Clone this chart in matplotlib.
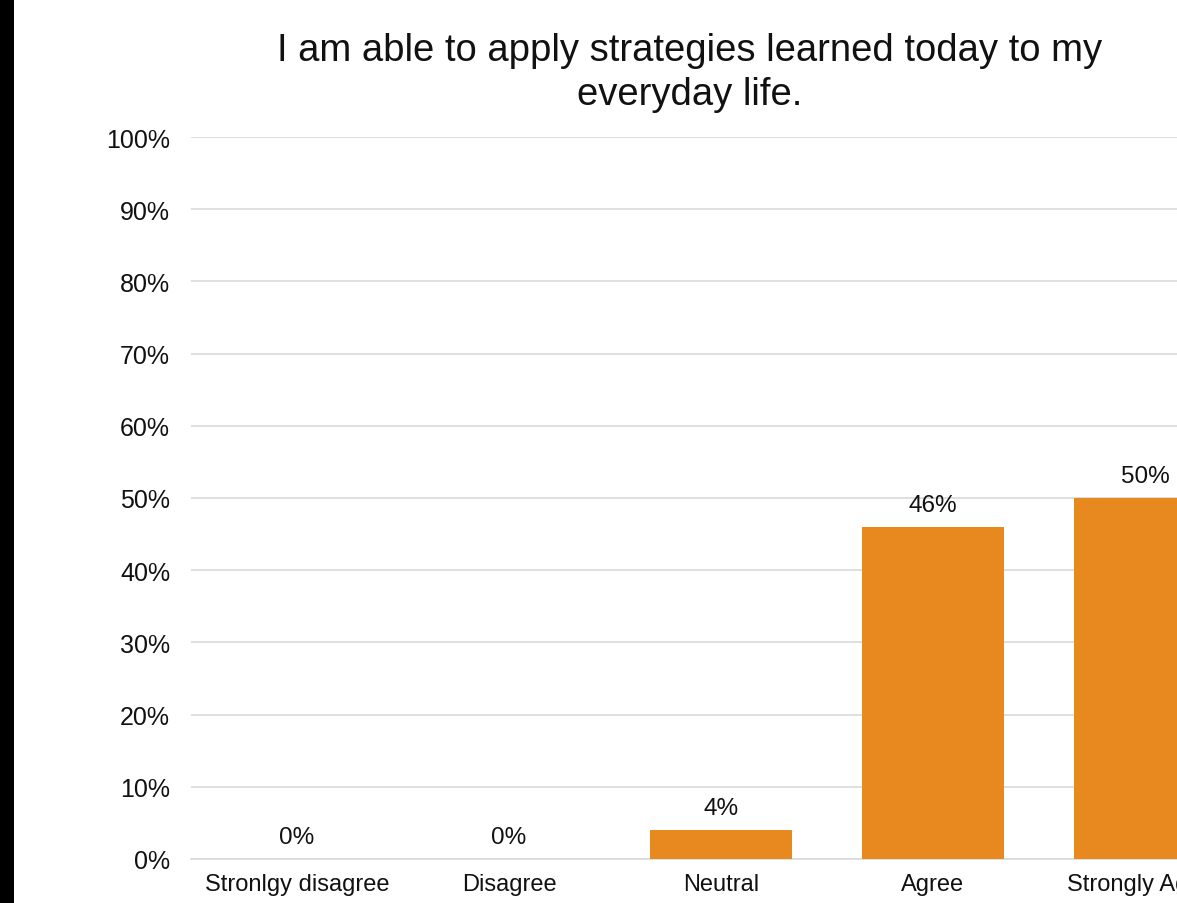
import matplotlib.pyplot as plt
from matplotlib.patches import Rectangle
from matplotlib.ticker import PercentFormatter

categories = ['Stronlgy disagree', 'Disagree', 'Neutral', 'Agree', 'Strongly Agree']
values = [0, 0, 4, 46, 50]
yticks = [0, 10, 20, 30, 40, 50, 60, 70, 80, 90, 100]

plt.rcParams['font.family'] = ['Liberation Sans', 'DejaVu Sans']

W, H = 1177, 904
fig = plt.figure(figsize=(W / 100, H / 100), dpi=100)
fig.patch.set_facecolor('white')

# black strip of the slide background on the left edge
fig.patches.append(Rectangle((0, 0), 14 / W, 1, transform=fig.transFigure,
                             facecolor='black', edgecolor='none', zorder=0))

# the plot runs past the right edge of the picture (cropped slide)
ax = fig.add_axes([191 / W, 44 / H, 1060 / W, 722 / H])
x = range(len(categories))
ax.bar(x, values, width=0.67, color='#E7891E', zorder=3)
for xi, v in zip(x, values):
    ax.text(xi, v + 1.5, f'{v}%', ha='center', va='bottom', fontsize=17.5, color='#111111')

ax.set_xlim(-0.5, len(categories) - 0.5)
ax.set_ylim(0, 100)
ax.set_yticks(yticks)
ax.yaxis.set_major_formatter(PercentFormatter(decimals=0))
ax.set_xticks(list(x))
ax.set_xticklabels(categories)
ax.tick_params(axis='both', length=0, labelsize=17, labelcolor='#111111')
ax.tick_params(axis='y', labelsize=18, pad=15)
ax.tick_params(axis='x', pad=10)
ax.grid(axis='y', color='#d9d9d9', linewidth=1.2, zorder=0)
for s in ['top', 'right', 'left']:
    ax.spines[s].set_visible(False)
ax.spines['bottom'].set_color('#d9d9d9')
ax.spines['bottom'].set_linewidth(1.2)

fig.text(690 / W, 1 - 73 / H, 'I am able to apply strategies learned today to my\neveryday life.',
         ha='center', va='center', fontsize=27.5, color='#111111', linespacing=1.28)

fig.savefig('out.png', dpi=100)
